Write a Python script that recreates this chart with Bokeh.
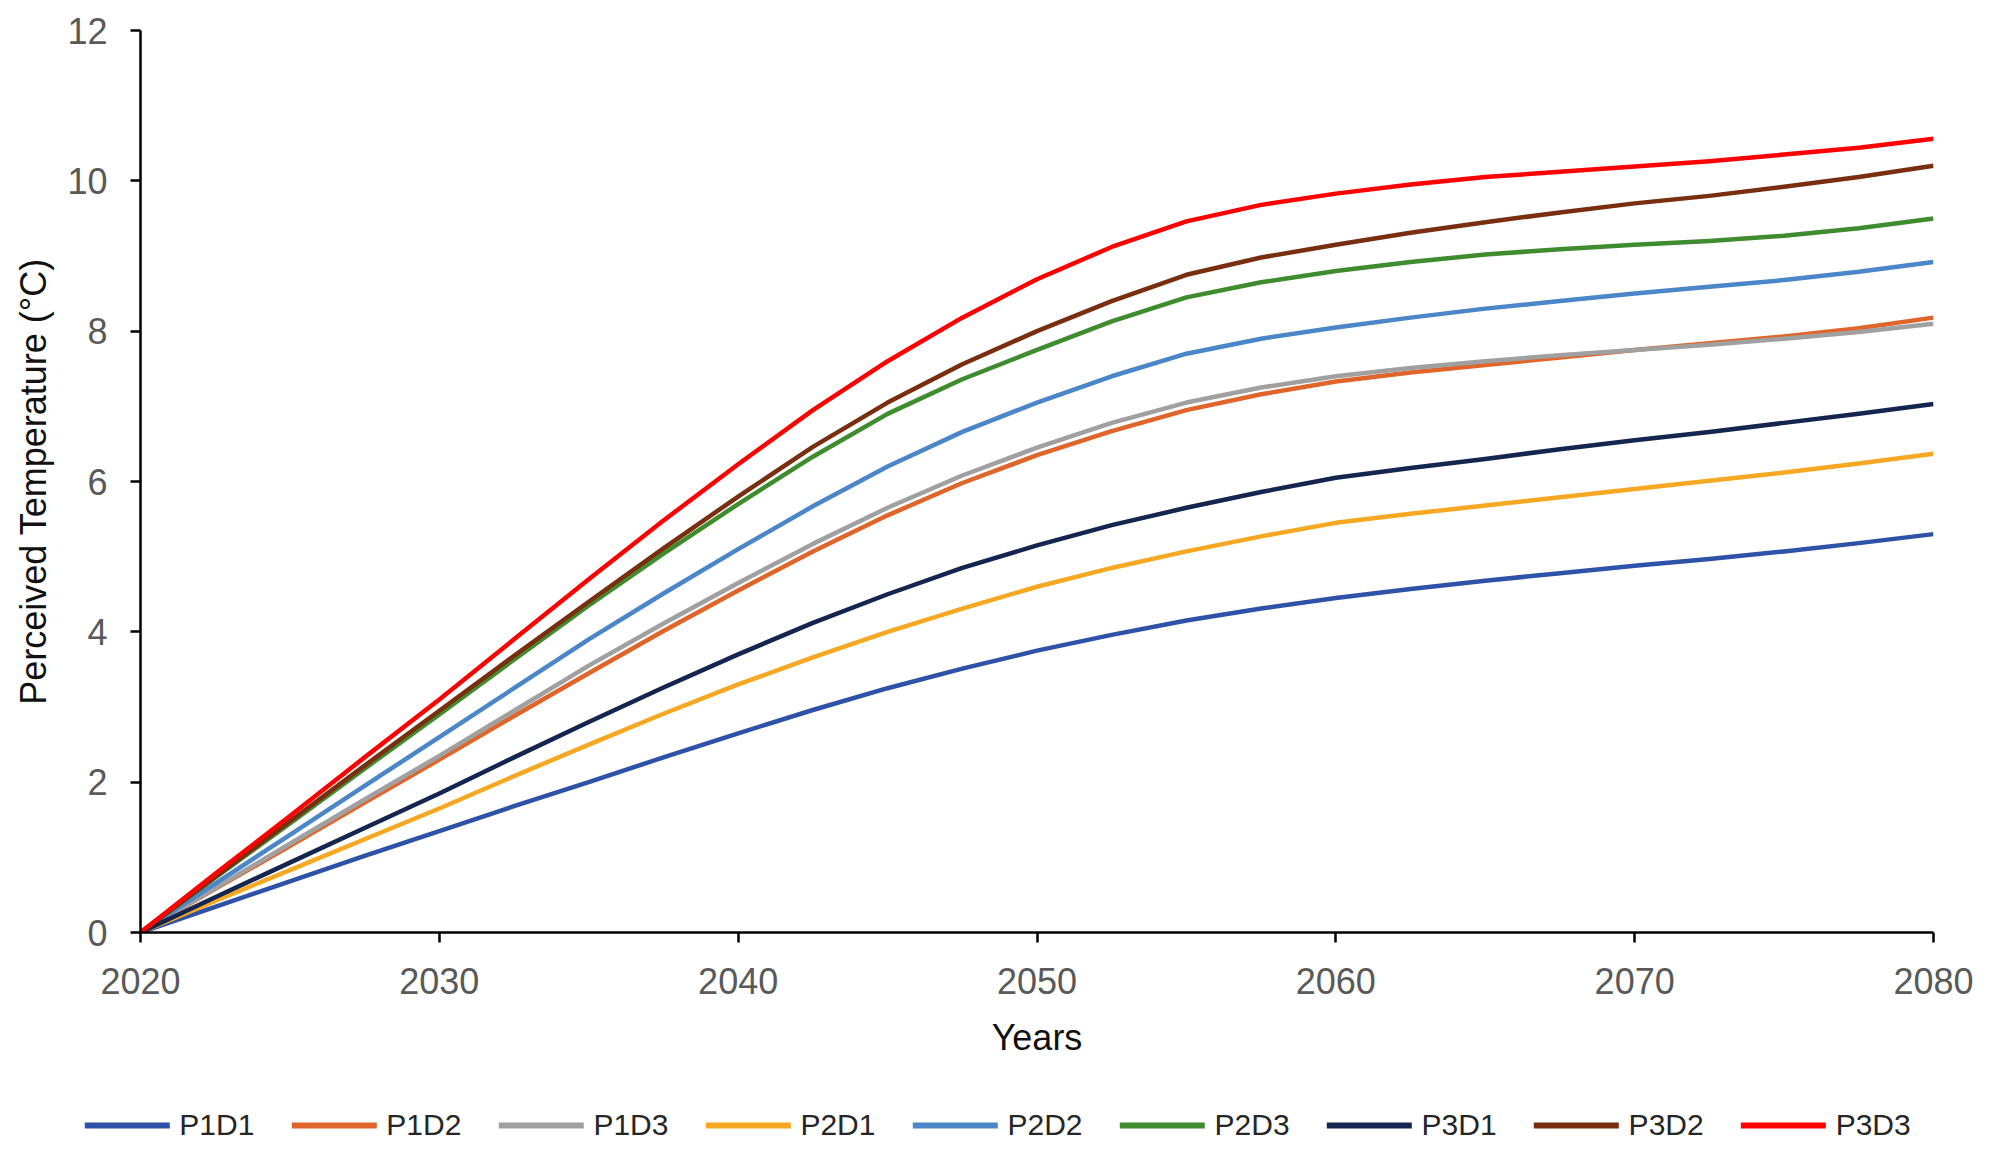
from bokeh.plotting import figure
from bokeh.models import Legend, LegendItem, Range1d, FixedTicker, Spacer
from bokeh.layouts import column, row
from bokeh.embed import file_html
from bokeh.resources import INLINE

years = [2020, 2022.5, 2025, 2027.5, 2030, 2032.5, 2035, 2037.5, 2040, 2042.5,
         2045, 2047.5, 2050, 2052.5, 2055, 2057.5, 2060, 2062.5, 2065, 2067.5,
         2070, 2072.5, 2075, 2077.5, 2080]

P1D1 = [0, 0.34, 0.68, 1.02, 1.35, 1.68, 2.00, 2.33, 2.65, 2.96, 3.25, 3.51, 3.75,
        3.96, 4.15, 4.31, 4.45, 4.57, 4.68, 4.78, 4.88, 4.97, 5.07, 5.18, 5.30]
P1D2 = [0, 0.58, 1.15, 1.73, 2.30, 2.88, 3.45, 4.01, 4.55, 5.07, 5.55, 5.98, 6.35,
        6.67, 6.95, 7.16, 7.33, 7.45, 7.55, 7.65, 7.75, 7.84, 7.93, 8.04, 8.18]
P1D3 = [0, 0.59, 1.18, 1.77, 2.35, 2.95, 3.55, 4.11, 4.65, 5.17, 5.65, 6.08, 6.45,
        6.78, 7.05, 7.25, 7.40, 7.51, 7.60, 7.68, 7.75, 7.82, 7.90, 7.99, 8.10]
P2D1 = [0, 0.42, 0.83, 1.24, 1.65, 2.08, 2.50, 2.91, 3.30, 3.66, 4.00, 4.31, 4.60,
        4.85, 5.07, 5.27, 5.45, 5.57, 5.68, 5.79, 5.90, 6.01, 6.12, 6.24, 6.37]
P2D2 = [0, 0.65, 1.30, 1.95, 2.60, 3.25, 3.90, 4.51, 5.10, 5.67, 6.20, 6.66, 7.05,
        7.40, 7.70, 7.90, 8.05, 8.18, 8.30, 8.40, 8.50, 8.59, 8.68, 8.79, 8.92]
P2D3 = [0, 0.73, 1.45, 2.18, 2.90, 3.63, 4.35, 5.04, 5.70, 6.33, 6.90, 7.36, 7.75,
        8.13, 8.45, 8.65, 8.80, 8.92, 9.02, 9.09, 9.15, 9.20, 9.27, 9.37, 9.50]
P3D1 = [0, 0.47, 0.93, 1.39, 1.85, 2.33, 2.80, 3.26, 3.70, 4.12, 4.50, 4.85, 5.15,
        5.42, 5.65, 5.86, 6.05, 6.18, 6.30, 6.43, 6.55, 6.66, 6.78, 6.90, 7.03]
P3D2 = [0, 0.74, 1.48, 2.22, 2.95, 3.68, 4.40, 5.11, 5.80, 6.46, 7.05, 7.56, 8.00,
        8.40, 8.75, 8.98, 9.15, 9.31, 9.45, 9.58, 9.70, 9.80, 9.92, 10.05, 10.20]
P3D3 = [0, 0.78, 1.55, 2.33, 3.10, 3.90, 4.70, 5.48, 6.23, 6.95, 7.60, 8.18, 8.69,
        9.12, 9.46, 9.68, 9.83, 9.95, 10.05, 10.12, 10.19, 10.26, 10.35, 10.44, 10.56]

names = ["P1D1", "P1D2", "P1D3", "P2D1", "P2D2", "P2D3", "P3D1", "P3D2", "P3D3"]
series = [P1D1, P1D2, P1D3, P2D1, P2D2, P2D3, P3D1, P3D2, P3D3]
colors = ["#2E52A8", "#E0652B", "#A0A0A0", "#F7A823", "#4A86C8",
          "#3F8C2E", "#14254F", "#7A2E10", "#FF0000"]

x_ticks = [2020, 2030, 2040, 2050, 2060, 2070, 2080]
y_ticks = [0, 2, 4, 6, 8, 10, 12]

FONT = "Liberation Sans"

p = figure(width=1973, height=1098, output_backend="svg", toolbar_location=None,
           x_range=Range1d(2020, 2080), y_range=Range1d(0, 12),
           min_border_left=100, min_border_right=50, min_border_top=30,
           min_border_bottom=166)
p.outline_line_color = None
p.xgrid.visible = False
p.ygrid.visible = False

for vals, col in zip(series, colors):
    p.line(years, vals, line_color=col, line_width=4.5, line_join="round")

for ax in (p.xaxis[0], p.yaxis[0]):
    ax.axis_line_color = "black"
    ax.axis_line_width = 2.5
    ax.major_tick_line_color = "black"
    ax.major_tick_line_width = 2.5
    ax.major_tick_out = 10
    ax.major_tick_in = 0
    ax.minor_tick_line_color = None
    ax.major_label_text_font = FONT
    ax.major_label_text_font_size = "36px"
    ax.major_label_text_color = "#595959"
    ax.axis_label_text_font = FONT
    ax.axis_label_text_font_size = "36px"
    ax.axis_label_text_font_style = "normal"
    ax.axis_label_text_color = "#111111"

p.xaxis.ticker = FixedTicker(ticks=x_ticks)
p.yaxis.ticker = FixedTicker(ticks=y_ticks)
p.xaxis.axis_label = "Years"
p.yaxis.axis_label = "Perceived Temperature (°C)"
p.xaxis.major_label_standoff = 25
p.xaxis.axis_label_standoff = 20
p.yaxis.major_label_standoff = 23
p.yaxis.axis_label_standoff = 10

# legend strip below the chart (its lines lie outside the strip's view)
lg = figure(width=1971, height=54, output_backend="svg", toolbar_location=None,
            x_axis_location=None, y_axis_location=None, min_border=0,
            x_range=Range1d(0, 1), y_range=Range1d(0, 1))
lg.outline_line_color = None
lg.xgrid.visible = False
lg.ygrid.visible = False
items = []
for n, vals, col in zip(names, series, colors):
    r = lg.line(years, vals, line_color=col, line_width=6, line_cap="round")
    items.append(LegendItem(label=n, renderers=[r]))

legend = Legend(items=items, orientation="horizontal", location="center",
                label_text_font=FONT, label_text_font_size="30px",
                label_text_color="#262626", glyph_width=85, glyph_height=30,
                label_standoff=10, spacing=37, padding=5, margin=0,
                border_line_color=None, background_fill_alpha=0)
lg.add_layout(legend, "center")

layout = column(row(Spacer(width=10, height=1098), p, spacing=0),
                row(Spacer(width=12, height=54), lg, spacing=0), spacing=0)
open("out.html", "w").write(file_html(layout, INLINE))
